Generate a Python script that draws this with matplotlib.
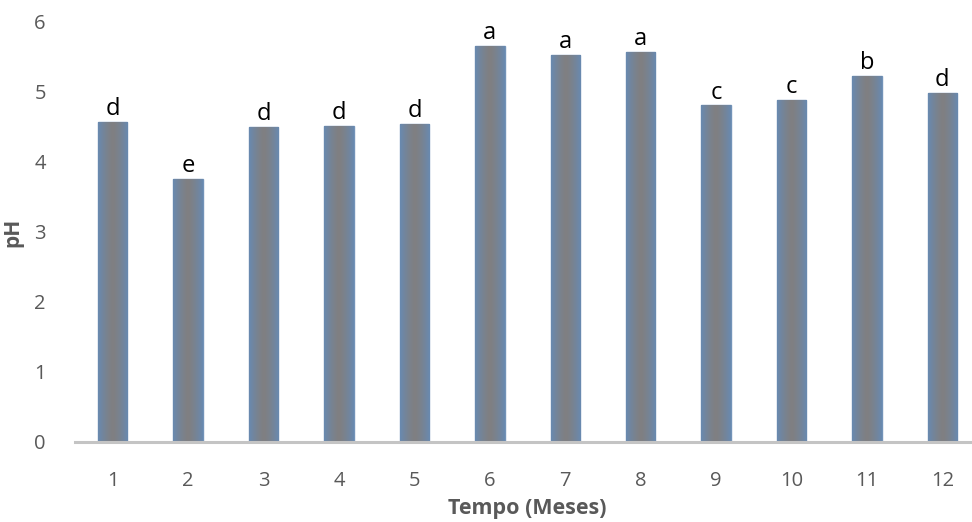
import numpy as np
import matplotlib.pyplot as plt

plt.rcParams['font.family'] = ['Open Sans', 'DejaVu Sans']

meses = [str(m) for m in range(1, 13)]
ph = [4.57, 3.76, 4.50, 4.52, 4.54, 5.66, 5.53, 5.57, 4.81, 4.89, 5.23, 4.99]
letras = ['d', 'e', 'd', 'd', 'd', 'a', 'a', 'a', 'c', 'c', 'b', 'd']

fig = plt.figure(figsize=(9.72, 5.22), dpi=100)
ax = fig.add_axes([0.0772, 0.1533, 0.931, 0.8046])

x = np.arange(1, 13)
bars = ax.bar(x, ph, width=0.39, color='#7f7f82', edgecolor='#7393b8',
              linewidth=1.0, zorder=2)

# degrade horizontal: borda azulada, centro cinza
t = np.linspace(-1, 1, 64)
w = np.abs(t) ** 1.4
edge = np.array([0.41, 0.54, 0.69])
mid = np.array([0.50, 0.50, 0.51])
grad = (1 - w)[:, None] * mid + w[:, None] * edge
grad = grad[None, :, :]
for b in bars:
    x0, y0 = b.get_x(), b.get_y()
    im = ax.imshow(grad, extent=[x0, x0 + b.get_width(), y0, y0 + b.get_height()],
                   aspect='auto', zorder=2.5, interpolation='bilinear')
    im.set_clip_path(b)

for xi, v, l in zip(x, ph, letras):
    ax.text(xi, v + 0.01, l, ha='center', va='bottom', fontsize=17, color='black')

ax.set_xlim(0.5, 12.5)
ax.set_ylim(0, 6)
ax.set_xticks(x)
ax.set_xticklabels(meses)
ax.set_yticks(range(0, 7))

for s in ['top', 'right', 'left']:
    ax.spines[s].set_visible(False)
ax.spines['bottom'].set_color('#c4c4c4')
ax.spines['bottom'].set_linewidth(2.2)
ax.spines['bottom'].set_zorder(3)

ax.tick_params(axis='both', length=0, labelsize=14.5, labelcolor='#595959')
ax.tick_params(axis='x', pad=21)
ax.tick_params(axis='y', pad=21)

ax.set_xlabel('Tempo (Meses)', fontsize=15.5, fontweight='bold', color='#595959', labelpad=5)
ax.set_ylabel('pH', fontsize=15, fontweight='bold', color='#595959', labelpad=8)

fig.savefig('out.png', dpi=100)
